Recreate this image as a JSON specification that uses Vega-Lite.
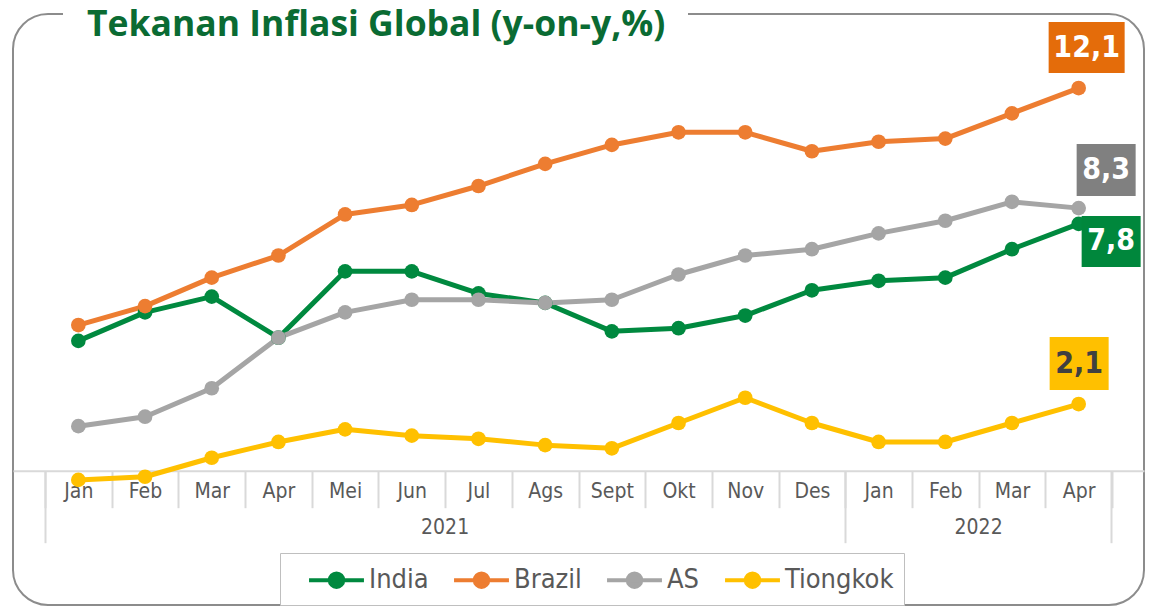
{
  "$schema": "https://vega.github.io/schema/vega-lite/v6.json",
  "width": 1131,
  "height": 591,
  "autosize": "none",
  "padding": {"left": 13, "top": 14, "right": 9, "bottom": 1},
  "background": "white",
  "title": {
    "text": "Tekanan Inflasi Global (y-on-y,%)",
    "anchor": "start", "frame": "group", "orient": "none",
    "dx": 74, "dy": 22, "baseline": "alphabetic",
    "font": "Open Sans", "fontSize": 35.5, "fontWeight": "bold", "color": "#0A6B33"
  },
  "config": {
    "view": {"stroke": "#8C8C8C", "strokeWidth": 2, "cornerRadius": 35, "strokeDash": [15, 625, 4000, 0]}
  },
  "data": {
    "values": [
      {"bulan": "Jan 2021", "negara": "India", "inflasi": 4.1},
      {"bulan": "Feb 2021", "negara": "India", "inflasi": 5.0},
      {"bulan": "Mar 2021", "negara": "India", "inflasi": 5.5},
      {"bulan": "Apr 2021", "negara": "India", "inflasi": 4.2},
      {"bulan": "Mei 2021", "negara": "India", "inflasi": 6.3},
      {"bulan": "Jun 2021", "negara": "India", "inflasi": 6.3},
      {"bulan": "Jul 2021", "negara": "India", "inflasi": 5.6},
      {"bulan": "Ags 2021", "negara": "India", "inflasi": 5.3},
      {"bulan": "Sept 2021", "negara": "India", "inflasi": 4.4},
      {"bulan": "Okt 2021", "negara": "India", "inflasi": 4.5},
      {"bulan": "Nov 2021", "negara": "India", "inflasi": 4.9},
      {"bulan": "Des 2021", "negara": "India", "inflasi": 5.7},
      {"bulan": "Jan 2022", "negara": "India", "inflasi": 6.0},
      {"bulan": "Feb 2022", "negara": "India", "inflasi": 6.1},
      {"bulan": "Mar 2022", "negara": "India", "inflasi": 7.0},
      {"bulan": "Apr 2022", "negara": "India", "inflasi": 7.8},
      {"bulan": "Jan 2021", "negara": "Brazil", "inflasi": 4.6},
      {"bulan": "Feb 2021", "negara": "Brazil", "inflasi": 5.2},
      {"bulan": "Mar 2021", "negara": "Brazil", "inflasi": 6.1},
      {"bulan": "Apr 2021", "negara": "Brazil", "inflasi": 6.8},
      {"bulan": "Mei 2021", "negara": "Brazil", "inflasi": 8.1},
      {"bulan": "Jun 2021", "negara": "Brazil", "inflasi": 8.4},
      {"bulan": "Jul 2021", "negara": "Brazil", "inflasi": 9.0},
      {"bulan": "Ags 2021", "negara": "Brazil", "inflasi": 9.7},
      {"bulan": "Sept 2021", "negara": "Brazil", "inflasi": 10.3},
      {"bulan": "Okt 2021", "negara": "Brazil", "inflasi": 10.7},
      {"bulan": "Nov 2021", "negara": "Brazil", "inflasi": 10.7},
      {"bulan": "Des 2021", "negara": "Brazil", "inflasi": 10.1},
      {"bulan": "Jan 2022", "negara": "Brazil", "inflasi": 10.4},
      {"bulan": "Feb 2022", "negara": "Brazil", "inflasi": 10.5},
      {"bulan": "Mar 2022", "negara": "Brazil", "inflasi": 11.3},
      {"bulan": "Apr 2022", "negara": "Brazil", "inflasi": 12.1},
      {"bulan": "Jan 2021", "negara": "AS", "inflasi": 1.4},
      {"bulan": "Feb 2021", "negara": "AS", "inflasi": 1.7},
      {"bulan": "Mar 2021", "negara": "AS", "inflasi": 2.6},
      {"bulan": "Apr 2021", "negara": "AS", "inflasi": 4.2},
      {"bulan": "Mei 2021", "negara": "AS", "inflasi": 5.0},
      {"bulan": "Jun 2021", "negara": "AS", "inflasi": 5.4},
      {"bulan": "Jul 2021", "negara": "AS", "inflasi": 5.4},
      {"bulan": "Ags 2021", "negara": "AS", "inflasi": 5.3},
      {"bulan": "Sept 2021", "negara": "AS", "inflasi": 5.4},
      {"bulan": "Okt 2021", "negara": "AS", "inflasi": 6.2},
      {"bulan": "Nov 2021", "negara": "AS", "inflasi": 6.8},
      {"bulan": "Des 2021", "negara": "AS", "inflasi": 7.0},
      {"bulan": "Jan 2022", "negara": "AS", "inflasi": 7.5},
      {"bulan": "Feb 2022", "negara": "AS", "inflasi": 7.9},
      {"bulan": "Mar 2022", "negara": "AS", "inflasi": 8.5},
      {"bulan": "Apr 2022", "negara": "AS", "inflasi": 8.3},
      {"bulan": "Jan 2021", "negara": "Tiongkok", "inflasi": -0.3},
      {"bulan": "Feb 2021", "negara": "Tiongkok", "inflasi": -0.2},
      {"bulan": "Mar 2021", "negara": "Tiongkok", "inflasi": 0.4},
      {"bulan": "Apr 2021", "negara": "Tiongkok", "inflasi": 0.9},
      {"bulan": "Mei 2021", "negara": "Tiongkok", "inflasi": 1.3},
      {"bulan": "Jun 2021", "negara": "Tiongkok", "inflasi": 1.1},
      {"bulan": "Jul 2021", "negara": "Tiongkok", "inflasi": 1.0},
      {"bulan": "Ags 2021", "negara": "Tiongkok", "inflasi": 0.8},
      {"bulan": "Sept 2021", "negara": "Tiongkok", "inflasi": 0.7},
      {"bulan": "Okt 2021", "negara": "Tiongkok", "inflasi": 1.5},
      {"bulan": "Nov 2021", "negara": "Tiongkok", "inflasi": 2.3},
      {"bulan": "Des 2021", "negara": "Tiongkok", "inflasi": 1.5},
      {"bulan": "Jan 2022", "negara": "Tiongkok", "inflasi": 0.9},
      {"bulan": "Feb 2022", "negara": "Tiongkok", "inflasi": 0.9},
      {"bulan": "Mar 2022", "negara": "Tiongkok", "inflasi": 1.5},
      {"bulan": "Apr 2022", "negara": "Tiongkok", "inflasi": 2.1}
    ]
  },
  "encoding": {
    "y": {"field": "inflasi", "type": "quantitative", "scale": {"domain": [-4.259, 14.443], "nice": false, "zero": false}, "axis": null}
  },
  "layer": [
    {
      "mark": {"type": "line", "strokeWidth": 5, "strokeJoin": "round"},
      "encoding": {
        "x": {"field": "bulan", "type": "nominal", "sort": null,
          "scale": {"type": "band", "domain": ["Jan 2021","Feb 2021","Mar 2021","Apr 2021","Mei 2021","Jun 2021","Jul 2021","Ags 2021","Sept 2021","Okt 2021","Nov 2021","Des 2021","Jan 2022","Feb 2022","Mar 2022","Apr 2022"], "paddingInner": 0, "paddingOuter": 0.48},
          "axis": {"orient": "bottom", "offset": -134.3, "title": null, "grid": false, "domain": true, "domainColor": "#D9D9D9", "domainWidth": 2,
            "ticks": true, "tickBand": "extent", "tickSize": 37, "tickColor": "#D9D9D9", "tickWidth": 2,
            "labelExpr": "isValid(datum.value) ? split(datum.value, ' ')[0] : ''", "labelAngle": 0, "labelFont": "DejaVu Sans Condensed, Roboto", "labelFontSize": 21, "labelColor": "#595959", "labelBaseline": "middle", "labelPadding": -16}},
        "color": {"field": "negara", "type": "nominal",
          "scale": {"domain": ["India", "Brazil", "AS", "Tiongkok"], "range": ["#00893F", "#ED7D31", "#A5A5A5", "#FFC000"]},
          "legend": {"orient": "none", "legendX": 267, "legendY": 539, "direction": "horizontal", "title": null,
            "strokeColor": "#BFBFBF", "fillColor": "white", "padding": 10,
            "symbolType": "M-1.83,0H1.83M0.45,0A0.45,0.45 0 1,1 -0.45,0A0.45,0.45 0 1,1 0.45,0Z",
            "symbolSize": 900, "symbolStrokeWidth": 4, "symbolOffset": 29.5, "labelOffset": 15.5,
            "labelFont": "DejaVu Sans Condensed, Roboto", "labelFontSize": 27, "labelColor": "#595959", "columnPadding": 6}}
      }
    },
    {
      "mark": {"type": "point", "filled": true, "size": 216, "opacity": 1},
      "encoding": {
        "x": {"field": "bulan", "type": "nominal", "sort": null,
          "axis": {"orient": "bottom", "offset": -134.3, "title": null, "grid": false, "domain": false, "labels": false,
            "values": ["Jan 2021", "Jan 2022"], "bandPosition": 0, "ticks": true, "tickSize": 72, "tickColor": "#D9D9D9", "tickWidth": 2}},
        "color": {"field": "negara", "type": "nominal"}
      }
    },
    {
      "transform": [{"filter": "datum.bulan == 'Apr 2022'"}],
      "mark": {"type": "point", "filled": true, "size": 4, "opacity": 1, "strokeWidth": 0,
        "shape": {"expr": "datum.negara == 'Brazil' ? 'M-30,-66H46V-15H-30Z' : datum.negara == 'AS' ? 'M-2,-64H57V-12H-2Z' : datum.negara == 'India' ? 'M3,-8H62V43H3Z' : 'M-29,-67H30V-14H-29Z'"},
        "fill": {"expr": "datum.negara == 'Brazil' ? '#E46C0A' : datum.negara == 'AS' ? '#808080' : datum.negara == 'India' ? '#00873C' : '#FFC000'"}},
      "encoding": {
        "x": {"field": "bulan", "type": "nominal", "sort": null,
          "axis": {"orient": "bottom", "offset": -134.3, "title": null, "grid": false, "domain": false, "labels": false,
            "values": ["Apr 2022"], "bandPosition": 1, "ticks": true, "tickSize": 72, "tickColor": "#D9D9D9", "tickWidth": 2}}
      }
    },
    {
      "transform": [{"filter": "datum.bulan == 'Apr 2022'"}],
      "mark": {"type": "text", "font": "DejaVu Sans Condensed, Roboto", "fontWeight": "bold", "fontSize": 30, "align": "center", "baseline": "middle",
        "text": {"expr": "replace(format(datum.inflasi, '.1f'), '.', ',')"},
        "dx": {"expr": "datum.negara == 'Brazil' ? 8 : datum.negara == 'AS' ? 27.5 : datum.negara == 'India' ? 32.5 : 0.5"},
        "dy": {"expr": "datum.negara == 'Brazil' ? -40 : datum.negara == 'AS' ? -38 : datum.negara == 'India' ? 17.5 : -40.5"},
        "fill": {"expr": "datum.negara == 'Tiongkok' ? '#404040' : 'white'"}},
      "encoding": {
        "x": {"field": "bulan", "type": "nominal", "sort": null,
          "axis": {"orient": "bottom", "offset": -134.3, "title": null, "grid": false, "domain": false, "ticks": false,
            "values": ["Jul 2021", "Mar 2022"], "labelOffset": -33.35,
            "labelExpr": "split(datum.value, ' ')[1]", "labelAngle": 0, "labelFont": "DejaVu Sans Condensed, Roboto", "labelFontSize": 21, "labelColor": "#595959", "labelBaseline": "middle", "labelPadding": 57}}
      }
    }
  ],
  "resolve": {"axis": {"x": "independent"}}
}
